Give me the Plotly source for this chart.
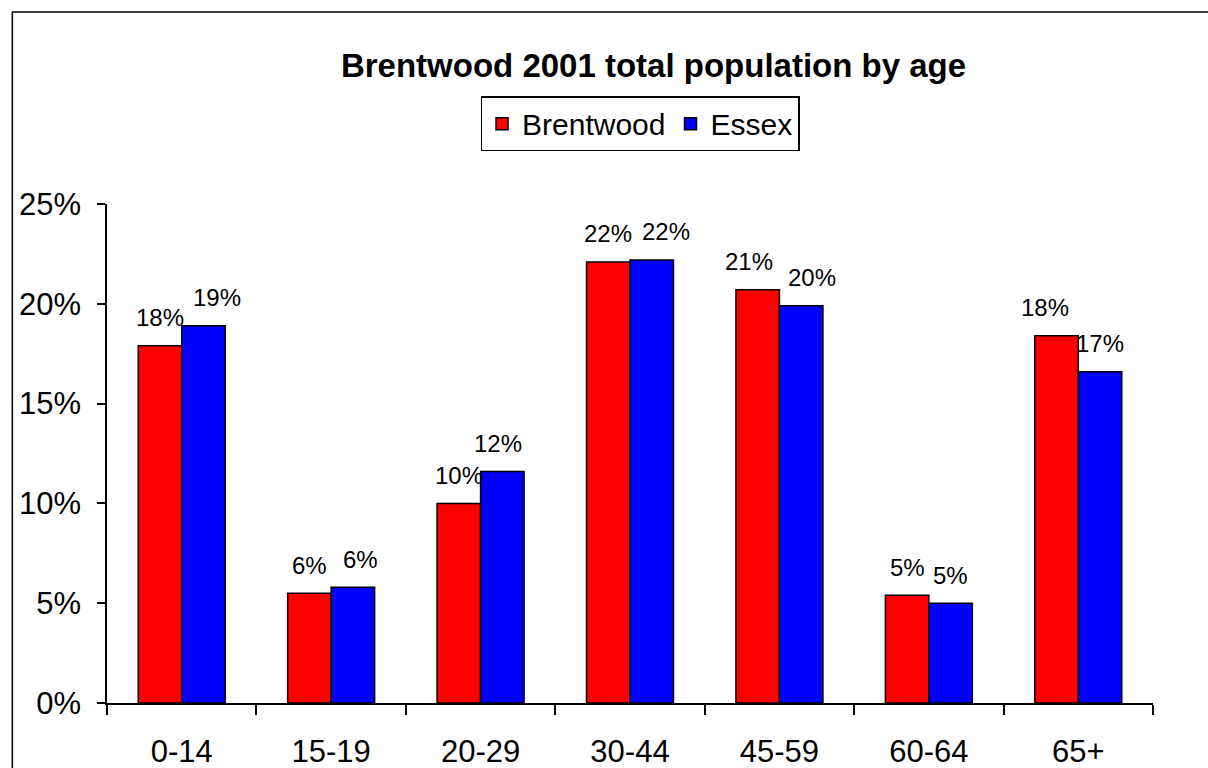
import plotly.graph_objects as go

# Age bands and share of total population (%) in 2001
age_bands = ["0-14", "15-19", "20-29", "30-44", "45-59", "60-64", "65+"]
brentwood = [17.9, 5.5, 10.0, 22.1, 20.7, 5.4, 18.4]
essex = [18.9, 5.8, 11.6, 22.2, 19.9, 5.0, 16.6]

series_names = ["Brentwood", "Essex"]
series_colors = ["#FF0000", "#0000FF"]

# Horizontal nudges (px) that keep neighbouring value labels apart
brentwood_label_nudge = [0, 0, 0, 0, -9, 0, -11]
essex_label_nudge = [13, 8, -4, 14, 11, 0, 0]

FONT = "Liberation Sans, Arial, sans-serif"

fig = go.Figure()
for name, vals, col in zip(series_names, [brentwood, essex], series_colors):
    fig.add_trace(go.Bar(
        name=name,
        x=age_bands,
        y=vals,
        marker=dict(color=col, line=dict(color="black", width=1.5)),
        hoverinfo="x+y",
    ))

# Value labels sitting above each bar (rounded to whole percent)
half_bar_px = 21.8
for offset, vals, nudges in zip([-half_bar_px, half_bar_px],
                                [brentwood, essex],
                                [brentwood_label_nudge, essex_label_nudge]):
    for cat, v, dx in zip(age_bands, vals, nudges):
        fig.add_annotation(
            x=cat, y=v, xref="x", yref="y",
            text=f"{round(v)}%",
            showarrow=False,
            xshift=offset + dx, yshift=28,
            yanchor="middle",
            font=dict(family=FONT, size=24, color="black"),
        )

# Outer chart frame
fig.add_shape(
    type="rect", xref="paper", yref="paper",
    x0=-0.0905, x1=1.06, y0=-0.2, y1=1.385,
    line=dict(color="black", width=1.5),
    fillcolor="rgba(0,0,0,0)", layer="below",
)

fig.update_layout(
    width=1208, height=768,
    margin=dict(l=107, r=55, t=204, b=65),
    paper_bgcolor="white", plot_bgcolor="white",
    barmode="group", bargap=0.418, bargroupgap=0,
    font=dict(family=FONT, color="black"),
    title=dict(
        text="<b>Brentwood 2001 total population by age</b>",
        x=0.541, xanchor="center", y=0.915, yanchor="middle",
        font=dict(family=FONT, size=33, color="black"),
    ),
    legend=dict(
        orientation="h",
        x=0.5096, xanchor="center", y=1.216, yanchor="top",
        bordercolor="black", borderwidth=1.5, bgcolor="white",
        font=dict(family=FONT, size=30, color="black"),
        traceorder="normal",
        itemwidth=30,
    ),
    xaxis=dict(
        automargin=False,
        showline=True, linecolor="black", linewidth=1.5,
        ticks="outside", tickson="boundaries", ticklen=10,
        tickcolor="black", tickwidth=1.5,
        tickfont=dict(family=FONT, size=31, color="black"),
        ticklabelstandoff=20,
        showgrid=False, zeroline=False,
    ),
    yaxis=dict(
        automargin=False,
        range=[0, 25], dtick=5, ticksuffix="%",
        showline=True, linecolor="black", linewidth=1.5,
        ticks="outside", ticklen=8, tickcolor="black", tickwidth=1.5,
        tickfont=dict(family=FONT, size=31, color="black"),
        ticklabelstandoff=10,
        showgrid=False, zeroline=False,
    ),
)

fig.write_html("out.html")
